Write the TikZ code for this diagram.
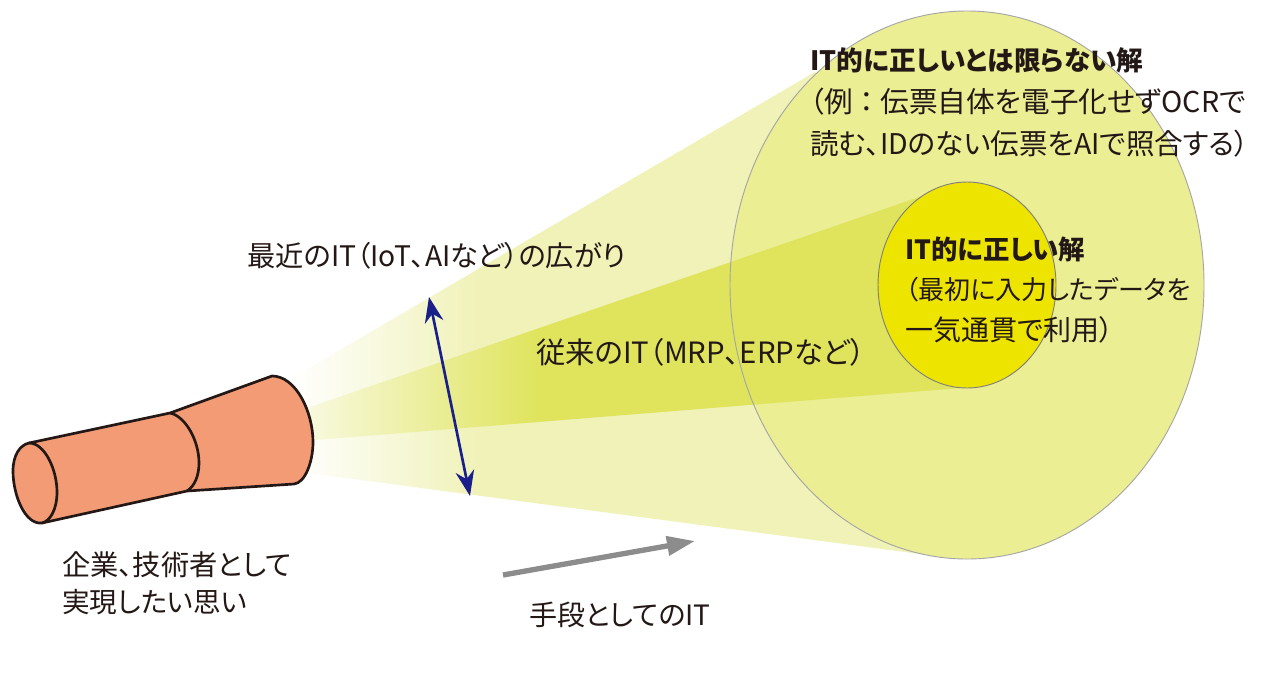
\documentclass[tikz,border=0pt]{standalone}
\usepackage{fontspec}
\setmainfont[RawFeature=+palt]{Noto Sans CJK JP}
\usetikzlibrary{arrows.meta}
\definecolor{conelight}{HTML}{F0F2B8}
\definecolor{bigfill}{HTML}{EBEE92}
\definecolor{conedark}{HTML}{DFE45C}
\definecolor{smallfill}{HTML}{EDE400}
\definecolor{tube}{HTML}{F29B74}
\definecolor{ink}{HTML}{231815}
\definecolor{navy}{HTML}{1A1F8A}
\newcommand{\lsz}[2]{\fontsize{#1pt}{#2pt}\selectfont}
\tikzset{
  lbl/.style={inner sep=0pt,anchor=west,text=ink,align=left},
  rim/.style={draw=black!35,line width=0.7pt},
  tubeline/.style={draw=ink,line width=2pt,line join=round}
}
\begin{document}
\begin{tikzpicture}[x=0.75pt,y=-0.75pt]
\useasboundingbox (0,0) rectangle (1266,679);
% outer beam
\begin{scope}
  \clip (285,382) -- (815,72) -- (967,285) -- (935,556) -- (285,470) -- cycle;
  \shade[shading=axis,left color=white,right color=conelight,shading angle=90] (290,0) rectangle (480,679);
  \fill[conelight] (479,0) rectangle (1000,679);
\end{scope}
% big disc
\fill[bigfill] (967,285) ellipse [x radius=237,y radius=274];
% inner beam
\begin{scope}
  \clip (290,414) -- (925,195) -- (967,285) -- (960,388) -- (290,442) -- cycle;
  \shade[shading=axis,left color=conelight!40,right color=conedark,shading angle=90] (300,0) rectangle (540,679);
  \fill[conedark] (539,0) rectangle (1000,679);
\end{scope}
\draw[rim] (967,285) ellipse [x radius=237,y radius=274];
\fill[smallfill] (967,285) ellipse [x radius=89,y radius=103];
\draw[rim,draw=black!50] (967,285) ellipse [x radius=89,y radius=103];
% tube
\coordinate (t1) at (29,443);
\coordinate (t2) at (170,413);
\coordinate (t3) at (272,376);
\coordinate (t4) at (294,484);
\coordinate (t5) at (187,491);
\coordinate (t6) at (42,523);
\path[fill=tube,tubeline] (t1) -- (t2) -- (t3)
  .. controls (296,376) and (313,412) .. (313,442)
  .. controls (313,462) and (305,483) .. (t4)
  -- (t5) -- (t6)
  .. controls (25,525) and (13,495) .. (13,471)
  .. controls (13,455) and (20,445) .. (t1) -- cycle;
\draw[tubeline] (t1) .. controls (45,443) and (57,470) .. (57,492) .. controls (57,510) and (50,521) .. (t6);
\draw[tubeline] (t2) .. controls (185,416) and (199,440) .. (199,463) .. controls (199,475) and (195,486) .. (t5);
% arrows
\coordinate (a1) at (429,297);
\coordinate (a2) at (470,496);
\draw[navy,line width=2pt,{Stealth[length=19pt,width=14pt]}-{Stealth[length=19pt,width=14pt]}] (a1) -- (a2);
\coordinate (g1) at (503,575);
\coordinate (g2) at (695,541);
\draw[black!45,line width=4pt,-{Stealth[length=21pt,width=14pt,inset=0pt]}] (g1) -- (g2);
% labels
\node[lbl,font=\lsz{21.2}{27}] (recent) at (247,256) {最近のIT（IoT、AIなど）の広がり};
\node[lbl,font=\lsz{22}{27}] (legacy) at (536,352) {従来のIT（MRP、ERPなど）};
\node[lbl,font=\lsz{21}{27}] (means) at (529,615) {手段としてのIT};
\node[lbl,font=\lsz{21.2}{27.5}] (wish) at (62,583) {企業、技術者として\\\lsz{20.7}{27.5}実現したい思い};
\node[lbl,font=\lsz{20}{31.5}] (outer) at (810,102) {\textbf{IT的に正しいとは限らない解}\\\lsz{21.5}{31.5}（例 ： 伝票自体を電子化せずOCRで\\\lsz{21.4}{31.5}読む、IDのない伝票をAIで照合する）};
\node[lbl,font=\lsz{19.8}{30.5}] (inner) at (905,290) {\textbf{IT的に正しい解}\\\lsz{19.5}{30.5}（最初に入力したデータを\\\lsz{21}{30.5}一気通貫で利用）};
\end{tikzpicture}
\end{document}
